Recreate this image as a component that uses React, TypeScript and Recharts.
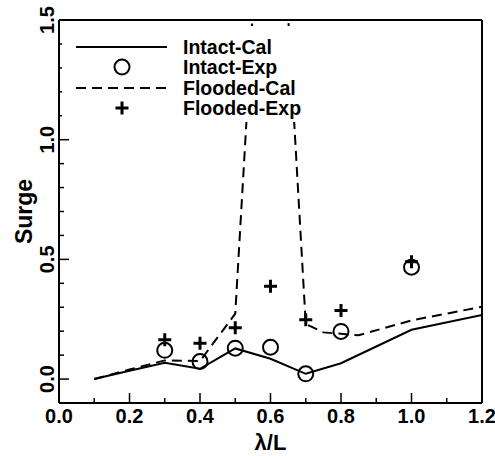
import React from "react";
import {
  ComposedChart,
  Line,
  Scatter,
  XAxis,
  YAxis,
  Legend,
  ReferenceLine,
} from "recharts";

// wave length ratio λ/L vs surge amplitude
const intactCalX = [0.1, 0.2, 0.3, 0.4, 0.5, 0.6, 0.7, 0.8, 1.0, 1.2];
const intactCalY = [0.0, 0.035, 0.068, 0.043, 0.128, 0.085, 0.022, 0.066, 0.206, 0.268];

const intactExpX = [0.3, 0.4, 0.5, 0.6, 0.7, 0.8, 1.0];
const intactExpY = [0.12, 0.073, 0.129, 0.133, 0.022, 0.199, 0.467];

const floodedCalX = [0.1, 0.2, 0.3, 0.4, 0.5, 0.6, 0.7, 0.75, 0.85, 1.0, 1.2];
const floodedCalY = [0.0, 0.04, 0.078, 0.075, 0.273, 2.8, 0.23, 0.195, 0.183, 0.245, 0.302];

const floodedExpX = [0.3, 0.4, 0.5, 0.6, 0.7, 0.8, 1.0];
const floodedExpY = [0.164, 0.15, 0.214, 0.388, 0.248, 0.286, 0.49];

const xTicks = [0, 0.1, 0.2, 0.3, 0.4, 0.5, 0.6, 0.7, 0.8, 0.9, 1.0, 1.1, 1.2];
const yTicks = [0, 0.1, 0.2, 0.3, 0.4, 0.5, 0.6, 0.7, 0.8, 0.9, 1.0, 1.1, 1.2, 1.3, 1.4, 1.5];

const zip = (xs: number[], ys: number[]) => xs.map((x, i) => ({ x, y: ys[i] }));

const intactCal = zip(intactCalX, intactCalY);
const intactExp = zip(intactExpX, intactExpY);
const floodedCal = zip(floodedCalX, floodedCalY);
const floodedExp = zip(floodedExpX, floodedExpY);

const FONT = "'Liberation Sans', Arial, Helvetica, sans-serif";

const isStep = (v: number, step: number) =>
  Math.abs(v / step - Math.round(v / step)) < 1e-6;

function XTick({ x, y, payload }: any) {
  const v = payload.value;
  const major = isStep(v, 0.2);
  return (
    <g>
      <line x1={x} y1={y} x2={x} y2={y - (major ? 10 : 5)} stroke="#000" strokeWidth={1.5} />
      {major && (
        <text x={x} y={y + 20} textAnchor="middle" fontFamily={FONT} fontWeight="bold" fontSize={20} fill="#000">
          {v.toFixed(1)}
        </text>
      )}
    </g>
  );
}

function YTick({ x, y, payload }: any) {
  const v = payload.value;
  const major = isStep(v, 0.5);
  return (
    <g>
      <line x1={x} y1={y} x2={x + (major ? 10 : 5)} y2={y} stroke="#000" strokeWidth={1.5} />
      {major && (
        <text
          x={54}
          y={y}
          transform={`rotate(-90, 54, ${y})`}
          textAnchor="middle"
          fontFamily={FONT}
          fontWeight="bold"
          fontSize={20}
          fill="#000"
        >
          {v.toFixed(1)}
        </text>
      )}
    </g>
  );
}

const OpenCircle = ({ cx, cy }: any) => (
  <circle cx={cx} cy={cy} r={7.5} fill="none" stroke="#000" strokeWidth={2} />
);

const Plus = ({ cx, cy }: any) => (
  <path d={`M${cx - 6.5},${cy}H${cx + 6.5}M${cx},${cy - 6.5}V${cy + 6.5}`} stroke="#000" strokeWidth={3} />
);

const legendRows = [
  { label: "Intact-Cal", kind: "solid" },
  { label: "Intact-Exp", kind: "circle" },
  { label: "Flooded-Cal", kind: "dashed" },
  { label: "Flooded-Exp", kind: "plus" },
];

function LegendBox() {
  return (
    <div style={{ background: "#fff", paddingTop: 10.5, paddingBottom: 3, width: 258 }}>
      {legendRows.map((r) => (
        <div key={r.label} style={{ display: "flex", alignItems: "center", height: 20.5 }}>
          <svg width={121} height={20} style={{ display: "block" }}>
            {r.kind === "solid" && <line x1={14} y1={10} x2={105} y2={10} stroke="#000" strokeWidth={2} />}
            {r.kind === "dashed" && (
              <line x1={14} y1={10} x2={105} y2={10} stroke="#000" strokeWidth={2} strokeDasharray="10 6" />
            )}
            {r.kind === "circle" && <OpenCircle cx={60} cy={10} />}
            {r.kind === "plus" && <Plus cx={60} cy={10} />}
          </svg>
          <span style={{ fontFamily: FONT, fontWeight: "bold", fontSize: 19.5, lineHeight: "20px", color: "#000" }}>
            {r.label}
          </span>
        </div>
      ))}
    </div>
  );
}

export default function App() {
  return (
    <div style={{ position: "absolute", left: 0, top: 0, width: 495, height: 456, background: "#fff" }}>
      <ComposedChart width={495} height={456} margin={{ top: 20, right: 13, bottom: 0, left: 0 }}>
        <XAxis
          dataKey="x"
          type="number"
          domain={[0, 1.2]}
          ticks={xTicks}
          interval={0}
          height={53}
          tickSize={0}
          tickMargin={0}
          tickLine={false}
          tick={<XTick />}
          axisLine={{ stroke: "#000", strokeWidth: 2 }}
          allowDataOverflow
          label={{
            value: "λ/L",
            position: "insideBottom",
            offset: 6,
            fontFamily: FONT,
            fontWeight: "bold",
            fontSize: 22,
            fill: "#000",
          }}
        />
        <YAxis
          dataKey="y"
          type="number"
          domain={[-0.1, 1.5]}
          ticks={yTicks}
          interval={0}
          width={59}
          tickSize={0}
          tickMargin={0}
          tickLine={false}
          tick={<YTick />}
          axisLine={{ stroke: "#000", strokeWidth: 2 }}
          allowDataOverflow
          label={{
            value: "Surge",
            angle: -90,
            position: "center",
            dx: -6,
            fontFamily: FONT,
            fontWeight: "bold",
            fontSize: 23,
            fill: "#000",
          }}
        />
        <ReferenceLine y={1.5} stroke="#000" strokeWidth={2} />
        <ReferenceLine x={1.2} stroke="#000" strokeWidth={2} />
        <Line
          data={intactCal}
          dataKey="y"
          type="linear"
          stroke="#000"
          strokeWidth={2}
          dot={false}
          isAnimationActive={false}
        />
        <Line
          data={floodedCal}
          dataKey="y"
          type="linear"
          stroke="#000"
          strokeWidth={2}
          strokeDasharray="10 6"
          dot={false}
          isAnimationActive={false}
        />
        <Scatter data={intactExp} dataKey="y" shape={<OpenCircle />} isAnimationActive={false} />
        <Scatter data={floodedExp} dataKey="y" shape={<Plus />} isAnimationActive={false} />
        <Legend
          layout="vertical"
          align="center"
          verticalAlign="middle"
          content={() => <LegendBox />}
          wrapperStyle={{ left: 62, top: 26, width: 258, height: "auto" }}
        />
      </ComposedChart>
    </div>
  );
}
